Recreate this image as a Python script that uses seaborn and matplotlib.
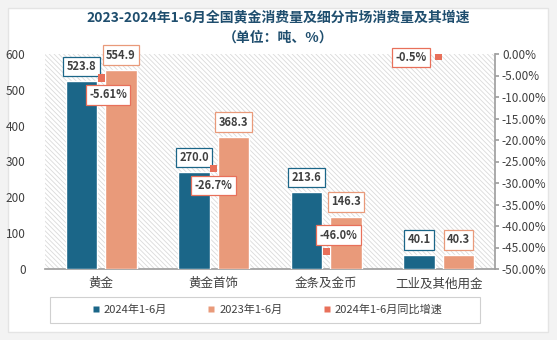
import matplotlib
matplotlib.use("Agg")
import matplotlib.pyplot as plt
import seaborn as sns
import pandas as pd
from matplotlib.lines import Line2D
from matplotlib.patches import Rectangle
from matplotlib.ticker import FuncFormatter

categories = ["黄金", "黄金首饰", "金条及金币", "工业及其他用金"]
v2024 = [523.8, 270.0, 213.6, 40.1]
v2023 = [554.9, 368.3, 146.3, 40.3]
growth = [-5.61, -26.7, -46.0, -0.5]
growth_labels = ["-5.61%", "-26.7%", "-46.0%", "-0.5%"]
series_names = ["2024年1-6月", "2023年1-6月", "2024年1-6月同比增速"]

C24 = "#1b6688"
C23 = "#e99a7a"
CG = "#e8705a"
TXT = "#404040"

sns.set_theme(style="white")
plt.rcParams['font.family'] = ['Noto Sans CJK SC', 'DejaVu Sans']
plt.rcParams['hatch.linewidth'] = 0.6

fig = plt.figure(figsize=(5.57, 3.40), dpi=100)
fig.patch.set_facecolor("#f3f3f3")
fig.patches.append(Rectangle((8/557, 8/340), 540/557, 324/340, transform=fig.transFigure,
                             facecolor="white", edgecolor="#e4e4e4", linewidth=1.0, zorder=-5))

ax = fig.add_axes([45/557, 71/340, 450/557, 215/340])
ax.set_facecolor("none")

df = pd.DataFrame({
    "cat": categories * 2,
    "val": v2024 + v2023,
    "series": [series_names[0]] * 4 + [series_names[1]] * 4,
})
sns.barplot(data=df, x="cat", y="val", hue="series", palette=[C24, C23],
            width=0.7, gap=0.2, ax=ax, legend=False, saturation=1, zorder=3)

ax.set_xlim(-0.5, 3.5)
ax.set_ylim(0, 600)
ax.set_yticks(range(0, 601, 100))
ax.set_xlabel("")
ax.set_ylabel("")
ax.tick_params(axis="y", length=0, labelsize=8.5, colors=TXT, pad=14)
ax.tick_params(axis="x", length=0, labelsize=9, colors=TXT, pad=6)
for s in ["top", "right", "left"]:
    ax.spines[s].set_visible(False)
ax.spines["bottom"].set_color("#a0a0a0")

# hatched background
ax.add_patch(Rectangle((0, 0), 1, 1, transform=ax.transAxes, facecolor="white",
                       edgecolor="#dadada", hatch="\\" * 7, linewidth=0, zorder=0))

# value labels for bars
for cont, color in zip(ax.containers, [C24, C23]):
    for bar in cont:
        h = bar.get_height()
        ax.annotate(f"{h:.1f}", (bar.get_x() + bar.get_width() / 2, h),
                    xytext=(0, 6), textcoords="offset points", ha="center", va="bottom",
                    fontsize=8, color=TXT, fontweight="bold", zorder=6,
                    bbox=dict(boxstyle="square,pad=0.3", fc="white", ec=color, lw=0.9))

ax2 = ax.twinx()
gdf = pd.DataFrame({"x": list(range(4)), "g": growth})
sns.scatterplot(data=gdf, x="x", y="g", marker="s", s=28, color=CG, edgecolor="none",
                ax=ax2, zorder=5)
ax2.set_ylim(-50, 0)
ax2.set_yticks(range(-50, 1, 5))
ax2.yaxis.set_major_formatter(FuncFormatter(lambda v, p: f"{v:.2f}%"))
ax2.set_ylabel("")
ax2.set_xlabel("")
ax2.tick_params(axis="y", length=3, color="#a0a0a0", labelsize=8.5, colors=TXT, pad=2)
for s in ["top", "left", "bottom"]:
    ax2.spines[s].set_visible(False)
ax2.spines["right"].set_color("#a0a0a0")
ax2.set_xlim(-0.5, 3.5)

offsets = [(5, -12), (0, -12), (9, 12), (-20, -1)]
for i, (g, lab, off) in enumerate(zip(growth, growth_labels, offsets)):
    ax2.annotate(lab, (i, g), xytext=off, textcoords="offset points", ha="center", va="center",
                 fontsize=8, color=TXT, fontweight="bold", zorder=7,
                 bbox=dict(boxstyle="square,pad=0.3", fc="white", ec=CG, lw=0.9))

fig.text(0.5, 1 - 17/340, "2023-2024年1-6月全国黄金消费量及细分市场消费量及其增速",
         ha="center", va="center", fontsize=10, fontweight="bold", color="#1f4e6e")
fig.text(0.5, 1 - 38/340, "（单位：吨、%）", ha="center", va="center",
         fontsize=10, fontweight="bold", color="#1f4e6e")

# legend box
fig.patches.append(Rectangle((50/557, 1 - 323/340), 430/557, 26/340, transform=fig.transFigure,
                             facecolor="white", edgecolor="#d0d0d0", linewidth=0.8, zorder=1))
handles = [Line2D([0], [0], marker="s", color="none", markerfacecolor=c, markeredgecolor="none",
                  markersize=5) for c in [C24, C23, CG]]
leg = fig.legend(handles, series_names, loc="center", bbox_to_anchor=(267/557, 1 - 310/340),
                 ncol=3, frameon=False, fontsize=8, handlelength=0.8, handletextpad=0.3,
                 columnspacing=3.6, borderpad=0.3)
for t in leg.get_texts():
    t.set_color(TXT)

fig.savefig("out.png", dpi=100, facecolor=fig.get_facecolor())
